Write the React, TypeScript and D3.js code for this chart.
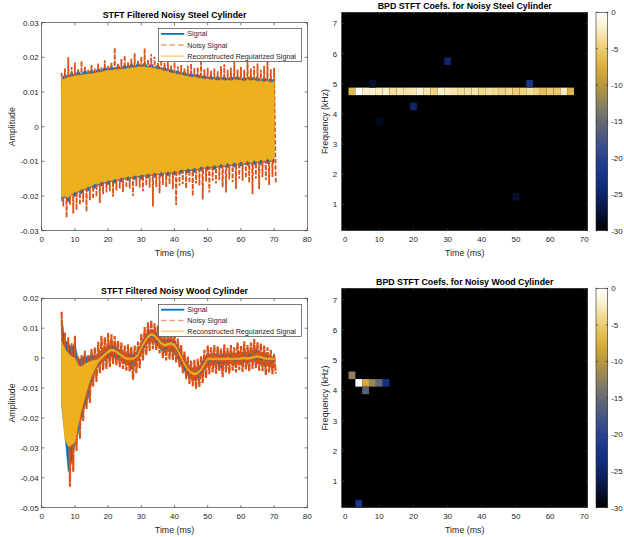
import React from "react";
import * as d3 from "d3";

// ---------- time-domain data (amplitudes in units of 0.001) ----------
const TIME_MS = [
  6, 7, 8, 9, 10, 11, 12, 13, 14, 15,
  16, 17, 18, 19, 20, 21, 22, 23, 24, 25,
  26, 27, 28, 29, 30, 31, 32, 33, 34, 35,
  36, 37, 38, 39, 40, 41, 42, 43, 44, 45,
  46, 47, 48, 49, 50, 51, 52, 53, 54, 55,
  56, 57, 58, 59, 60, 61, 62, 63, 64, 65,
  66, 67, 68, 69, 70,
];

const STEEL_SIGNAL_HI = [
  13.8, 15.2, 14.4, 15.8, 14.8, 16.2, 15.0, 16.4, 15.4, 16.6,
  15.6, 17.0, 16.0, 17.4, 16.4, 17.6, 16.6, 17.8, 16.8, 18.0,
  17.0, 18.4, 17.2, 18.6, 17.4, 18.6, 17.2, 18.4, 17.0, 18.0,
  16.6, 17.4, 16.2, 16.8, 15.6, 16.4, 15.2, 16.0, 14.8, 15.6,
  14.6, 15.4, 14.2, 15.0, 14.0, 14.8, 13.8, 14.6, 13.8, 14.6,
  13.6, 14.6, 13.8, 14.8, 13.6, 14.4, 13.8, 14.6, 13.6, 14.4,
  13.4, 14.2, 13.4, 14.0, 13.2,
];
const STEEL_SIGNAL_LO = [
  -21.5, -20.2, -21.8, -19.6, -20.2, -18.8, -19.4, -18.0, -18.6, -17.4,
  -17.8, -16.8, -17.2, -16.2, -16.8, -15.8, -16.4, -15.4, -16.0, -15.0,
  -15.6, -14.8, -15.4, -14.4, -15.2, -14.2, -14.8, -14.0, -14.6, -13.8,
  -14.4, -13.6, -14.2, -13.4, -14.0, -13.2, -13.6, -12.8, -13.4, -12.6,
  -13.2, -12.4, -12.8, -12.0, -12.6, -11.8, -12.4, -11.6, -12.0, -11.4,
  -11.8, -11.2, -11.6, -11.0, -11.4, -10.8, -11.2, -10.6, -11.0, -10.4,
  -10.8, -10.2, -10.6, -10.0, -10.4,
];
const STEEL_NOISY_HI = [
  15.5, 16.8, 20, 17.2, 18.5, 16.6, 19, 17.5, 16.4, 17.8,
  16.8, 18.2, 17.4, 19.2, 17.6, 18.5, 22.8, 18.2, 19.5, 20.6,
  18.8, 19.6, 21.2, 19, 20.2, 22.6, 19.4, 21, 20.2, 18.6,
  19.2, 18.4, 20.4, 17.8, 18.6, 17.4, 17.8, 16.8, 17.6, 18.2,
  16.9, 17.2, 19.4, 16.6, 17, 16.2, 16.8, 16, 17.4, 18,
  16.4, 17, 19, 16.5, 17.2, 16.4, 20, 16.8, 17.5, 18.2,
  16.4, 17.6, 19.6, 16.6, 17,
];
const STEEL_NOISY_LO = [
  -23, -26.2, -22.5, -25, -24, -22.6, -21.8, -24.5, -21.2, -20.8,
  -20.2, -22, -19.5, -19, -18.6, -20.2, -18.4, -17.8, -18.8, -17.6,
  -17.8, -20, -17.2, -17.5, -18.6, -17, -17.6, -23, -17.4, -19.2,
  -16.8, -17.5, -16.6, -18, -22.6, -17, -16.5, -17.8, -16.2, -20,
  -16.4, -17, -21, -15.8, -19, -15.6, -16.4, -15.4, -17.5, -19,
  -15.2, -16, -18, -15, -15.6, -14.8, -16.2, -19.5, -15, -18,
  -14.6, -15.4, -16.8, -14.5, -16.4,
];
const STEEL_RECON_HI = [
  13.6, 13.8, 14.2, 14.4, 14.6, 14.8, 14.8, 15.0, 15.2, 15.2,
  15.4, 15.6, 15.8, 16.0, 16.2, 16.2, 16.4, 16.4, 16.6, 16.6,
  16.8, 17.0, 17.0, 17.2, 17.2, 17.2, 17.0, 17.0, 16.8, 16.6,
  16.4, 16.0, 16.0, 15.4, 15.4, 15.0, 15.0, 14.6, 14.6, 14.2,
  14.4, 14.0, 14.0, 13.6, 13.8, 13.4, 13.6, 13.2, 13.6, 13.2,
  13.4, 13.2, 13.6, 13.4, 13.4, 13.0, 13.6, 13.2, 13.4, 13.0,
  13.2, 12.8, 13.2, 12.6, 13.0,
];
const STEEL_RECON_LO = [
  -20.1, -20.0, -20.4, -19.4, -18.8, -18.6, -18.0, -17.8, -17.2, -17.2,
  -16.4, -16.6, -15.8, -16.0, -15.4, -15.6, -15.0, -15.2, -14.6, -14.8,
  -14.2, -14.6, -14.0, -14.2, -13.8, -14.0, -13.4, -13.8, -13.2, -13.6,
  -13.0, -13.4, -12.8, -13.2, -12.6, -13.0, -12.2, -12.6, -12.0, -12.4,
  -11.8, -12.2, -11.4, -11.8, -11.2, -11.6, -11.0, -11.4, -10.6, -11.2,
  -10.4, -11.0, -10.2, -10.8, -10.0, -10.6, -9.8, -10.4, -9.6, -10.2,
  -9.4, -10.0, -9.2, -9.8, -9.0,
];

const WOOD_SIGNAL_HI = [
  14, 6, 5, 3.5, 5, -0.5, 0, 1, 0, 1.5,
  0.4, 1.6, 2.6, 3.2, 4, 4.4, 4, 3.2, 2.4, 1.6,
  1.2, 1.4, 1.4, 2.8, 5.2, 7.2, 8.8, 9.6, 9.2, 8,
  6.6, 6, 6.4, 6.6, 5.8, 4, 1.8, -0.2, -2, -3.2,
  -3.4, -3, -2, 0, 1.4, 1.2, 1.6, 1.4, 1, 1.8,
  1.2, 1.8, 1.2, 2.2, 1.6, 2.4, 1.8, 2.4, 3, 2.6,
  2.2, 1.6, 1.2, 0.8, 0,
];
const WOOD_SIGNAL_LO = [
  -16, -26, -38, -35, -29, -25, -20, -16, -13.5, -8.5,
  -4.8, -2.6, -1.6, -0.8, -0.2, 0.6, 0.2, -0.4, -1.2, -1.8,
  -2, -3.8, -2.2, -0.6, 1.8, 3.6, 5.2, 5.6, 5.2, 4,
  2.6, 2, 2.4, 2.2, 1.4, -0.4, -2.4, -4.4, -6, -7,
  -7.4, -6.8, -5.8, -4, -2.4, -2, -2.4, -1.8, -3.4, -2.2,
  -2.4, -1.8, -2.2, -1.6, -2.2, -1.4, -2, -1.2, -1, -1.8,
  -2, -2.8, -2.2, -2.8, -2.6,
];
const WOOD_NOISY_HI = [
  15.5, 8.5, 7, 5, 7.5, 0.5, 1, 2.5, 1, 3,
  3.5, 5.5, 7.5, 7, 8.5, 8, 7.4, 5.8, 5.2, 4.2,
  4.6, 3.8, 4.2, 5.5, 8.2, 10.4, 12, 12.6, 11.6, 11,
  9.6, 8.6, 9.4, 9.2, 8.4, 6.5, 4.4, 2.2, 0.6, -0.8,
  -0.6, -0.2, 0.8, 2.8, 4.2, 3.6, 4.4, 4, 3.2, 4.6,
  3.4, 4.4, 3.6, 5.2, 4, 5.6, 4.4, 5.2, 6.4, 5.4,
  5, 4.2, 3.6, 2.8, 1.4,
];
const WOOD_NOISY_LO = [
  -17, -28, -43, -38, -31, -27, -21, -17, -15, -9.5,
  -8, -5, -4, -3.6, -3, -2, -2.4, -3, -3.6, -4.2,
  -4.6, -7.2, -5, -3.4, -0.8, 1, 2.4, 3, 2.6, 1.6,
  0, -0.8, -0.4, -0.6, -1.4, -3, -5, -7, -8.6, -9.4,
  -10.2, -9.6, -8.4, -6.6, -5.4, -4.8, -5.2, -4.4, -6.4, -4.8,
  -5.2, -4.2, -4.8, -4, -4.6, -3.8, -4.4, -3.6, -3.4, -4.2,
  -4.4, -5.6, -4.8, -5.4, -5.2,
];
const WOOD_RECON_HI = [
  5.5, 3, 1.5, 0.5, 0, -2.5, -3, -2, -1.5, -1,
  -0.8, -0.5, 0.5, 1.5, 2.5, 3, 2.8, 2, 1.2, 0.4,
  0, 0, 0.2, 1.5, 3.8, 5.8, 7.4, 8.2, 7.8, 6.6,
  5.2, 4.6, 4.9, 5.2, 4.6, 2.8, 0.6, -1.6, -3.4, -4.6,
  -5, -4.6, -3.6, -1.6, 0, 0, 0, 0, 0, 0,
  0.1, 0, 0, 0, 0.1, 0.2, 0.1, 0.3, 0.6, 0.8,
  0.6, 0.2, 0, 0, 0,
];
const WOOD_RECON_LO = [
  -15, -27, -29.5, -29, -28, -22, -17, -13, -9, -6,
  -3.5, -1.5, -0.2, 0.8, 1.8, 2.4, 2.2, 1.4, 0.6, -0.2,
  -0.5, -0.5, -0.3, 0.9, 3.2, 5.2, 6.8, 7.6, 7.2, 6,
  4.6, 4, 4.3, 4.6, 4, 2.2, 0, -2.2, -4, -5.2,
  -5.6, -5.2, -4.2, -2.2, -0.5, -0.5, -0.5, -0.5, -0.5, -0.5,
  -0.4, -0.5, -0.5, -0.5, -0.4, -0.3, -0.4, -0.2, 0.1, 0.3,
  0.1, -0.3, -0.5, -0.5, -0.5,
];

const TIME_TICKS = [0, 10, 20, 30, 40, 50, 60, 70, 80];
const STEEL_AMP_TICKS = [-30, -20, -10, 0, 10, 20, 30];
const WOOD_AMP_TICKS = [-50, -40, -30, -20, -10, 0, 10, 20];
const LEGEND_LABELS = ["Signal", "Noisy Signal", "Reconstructed Regularized Signal"];

// ---------- STFT coefficient data (dB) ----------
const SPEC_TIME_TICKS = [0, 10, 20, 30, 40, 50, 60, 70];
const FREQ_TICKS = [1, 2, 3, 4, 5, 6, 7];
const CBAR_TICKS = [0, -5, -10, -15, -20, -25, -30];

const STEEL_BAR_T = [2, 4, 6, 8, 10, 12, 14, 16, 18, 20, 22, 24, 26, 28, 30, 32, 34, 36, 38, 40, 42, 44, 46, 48, 50, 52, 54, 56, 58, 60, 62, 64, 66];
const STEEL_BAR_DB = [-6.5, 0, -2.2, -2, -2.5, -2.2, -3.5, -3, -3.2, -2.8, -2, -3, -4.5, -2, -2.5, -3, -3.6, -3.4, -3, -4, -3.6, -4, -4.4, -4, -5, -4.6, -3.6, -4.6, -6, -5, -5.4, -2.6, -7];
const STEEL_BAR_F = 4.75;
const STEEL_SPOT_T = [8, 10, 20, 30, 50, 54];
const STEEL_SPOT_F = [5.0, 3.75, 4.25, 5.75, 1.25, 5.0];
const STEEL_SPOT_DB = [-28, -28.8, -25, -25, -28, -22];

const WOOD_CELL_T = [2, 4, 6, 8, 10, 12, 6, 4];
const WOOD_CELL_F = [4.5, 4.25, 4.25, 4.25, 4.25, 4.25, 4.0, 0.25];
const WOOD_CELL_DB = [-12.5, 0, -8, -12, -15.5, -23, -16, -22];

const CMAP_DB = [-30, -28, -26, -24, -22, -20, -18, -16, -14, -12, -10, -8, -6, -4, -2, 0];
const CMAP_COLORS = [
  "#000000", "#050f2e", "#0a1f58", "#0f2c78", "#19368a", "#28438c", "#3f5186", "#5a6279",
  "#76746c", "#968758", "#b8983f", "#d5a93a", "#e6c058", "#f2d990", "#fbf0d0", "#ffffff",
];

// ---------- styling ----------
const FONT = "'Liberation Sans', Arial, Helvetica, sans-serif";
const AXC = "#262626";
const BLUE = "#0072BD";
const ORANGE = "#D95319";
const GOLD = "#EDB120";

type Box = { l: number; t: number; r: number; b: number };
const TL: Box = { l: 41.7, t: 22.7, r: 307.3, b: 230.7 };
const BL: Box = { l: 41.7, t: 298.3, r: 307.3, b: 507.7 };
const TR: Box = { l: 341.7, t: 12.3, r: 587.7, b: 230.7 };
const BR: Box = { l: 341.7, t: 288.3, r: 587.7, b: 507.7 };
const CBAR_L = 596;
const CBAR_R = 607.7;

const colorScale = d3
  .scaleLinear<string>()
  .domain(CMAP_DB)
  .range(CMAP_COLORS)
  .interpolate(d3.interpolateRgb)
  .clamp(true);

const ampFmt = (v: number) => (v === 0 ? "0" : (v / 1000).toFixed(2));

function SignalPanel(props: {
  id: string;
  box: Box;
  title: string;
  yDomain: [number, number];
  yTicks: number[];
  sigHi: number[];
  sigLo: number[];
  noisyHi: number[];
  noisyLo: number[];
  recHi: number[];
  recLo: number[];
  legendTop: number;
  legendBottom: number;
  noisyWidth: number;
  noisyDash: string;
}) {
  const { id, box, title, yDomain, yTicks } = props;
  const x = d3.scaleLinear().domain([0, 80]).range([box.l, box.r]);
  const y = d3.scaleLinear().domain(yDomain).range([box.b, box.t]);
  const band = (hi: number[], lo: number[]) =>
    d3
      .area<number>()
      .x((_, i) => x(TIME_MS[i]))
      .y0((_, i) => y(lo[i]))
      .y1((d) => y(d))(hi) || "";
  const zig = (hi: number[], lo: number[]) => {
    const pts: [number, number][] = [];
    TIME_MS.forEach((t, i) => {
      pts.push([x(t), y(hi[i])]);
      pts.push([x(t + 0.5), y(lo[i])]);
    });
    return d3.line()(pts) || "";
  };
  const tl = 2.7;
  const lgL = 158.3;
  const lgR = 301.3;
  const rowH = (props.legendBottom - props.legendTop) / 3;
  return (
    <g>
      <defs>
        <clipPath id={id}>
          <rect x={box.l} y={box.t} width={box.r - box.l} height={box.b - box.t} />
        </clipPath>
      </defs>
      <rect x={box.l} y={box.t} width={box.r - box.l} height={box.b - box.t} fill="#fff" />
      <g clipPath={`url(#${id})`}>
        <path d={band(props.sigHi, props.sigLo)} fill={BLUE} stroke={BLUE} strokeWidth={0.5} />
        <path
          d={zig(props.noisyHi, props.noisyLo)}
          fill="none"
          stroke={ORANGE}
          strokeWidth={props.noisyWidth}
          strokeDasharray={props.noisyDash}
        />
        <path d={band(props.recHi, props.recLo)} fill={GOLD} stroke={GOLD} strokeWidth={0.9} strokeOpacity={0.85} />
      </g>
      {/* axes box */}
      <rect x={box.l} y={box.t} width={box.r - box.l} height={box.b - box.t} fill="none" stroke={AXC} strokeWidth={0.6} />
      {TIME_TICKS.map((v) => (
        <g key={"xt" + v}>
          <line x1={x(v)} x2={x(v)} y1={box.b} y2={box.b - tl} stroke={AXC} strokeWidth={0.6} />
          <line x1={x(v)} x2={x(v)} y1={box.t} y2={box.t + tl} stroke={AXC} strokeWidth={0.6} />
          <text x={x(v)} y={box.b + 11.5} textAnchor="middle" fontSize={8} fill={AXC} fontFamily={FONT}>
            {v}
          </text>
        </g>
      ))}
      {yTicks.map((v) => (
        <g key={"yt" + v}>
          <line x1={box.l} x2={box.l + tl} y1={y(v)} y2={y(v)} stroke={AXC} strokeWidth={0.6} />
          <line x1={box.r} x2={box.r - tl} y1={y(v)} y2={y(v)} stroke={AXC} strokeWidth={0.6} />
          <text x={box.l - 3} y={y(v) + 2.9} textAnchor="end" fontSize={8} fill={AXC} fontFamily={FONT}>
            {ampFmt(v)}
          </text>
        </g>
      ))}
      <text x={(box.l + box.r) / 2} y={box.b + 24.8} textAnchor="middle" fontSize={8.8} fill={AXC} fontFamily={FONT}>
        Time (ms)
      </text>
      <text
        transform={`translate(14.9,${(box.t + box.b) / 2}) rotate(-90)`}
        textAnchor="middle"
        fontSize={8.8}
        fill={AXC}
        fontFamily={FONT}
      >
        Amplitude
      </text>
      <text x={(box.l + box.r) / 2} y={box.t - 4.3} textAnchor="middle" fontSize={8.8} fontWeight="bold" fill="#000" fontFamily={FONT}>
        {title}
      </text>
      {/* legend */}
      <rect x={lgL} y={props.legendTop} width={lgR - lgL} height={props.legendBottom - props.legendTop} fill="#fff" stroke={AXC} strokeWidth={0.6} />
      {LEGEND_LABELS.map((lab, i) => {
        const cy = props.legendTop + rowH * (i + 0.5);
        const col = [BLUE, ORANGE, GOLD][i];
        return (
          <g key={lab}>
            <line
              x1={161}
              x2={184.3}
              y1={cy}
              y2={cy}
              stroke={col}
              strokeWidth={i === 0 ? 1.8 : 1.6}
              strokeOpacity={i === 0 ? 1 : 0.55}
              strokeDasharray={i === 1 ? "5.5,3" : undefined}
            />
            <text x={187.3} y={cy + 2.6} fontSize={7.2} fill={AXC} fontFamily={FONT}>
              {lab}
            </text>
          </g>
        );
      })}
    </g>
  );
}

function SpecPanel(props: {
  id: string;
  box: Box;
  title: string;
  cellT: number[];
  cellF: number[];
  cellDb: number[];
}) {
  const { id, box, title } = props;
  const x = d3.scaleLinear().domain([-1, 71]).range([box.l, box.r]);
  const y = d3.scaleLinear().domain([0.125, 7.375]).range([box.b, box.t]);
  const cb = d3.scaleLinear().domain([-30, 0]).range([box.b, box.t]);
  const tl = 2.5;
  const gid = id + "-grad";
  return (
    <g>
      <defs>
        <linearGradient id={gid} x1="0" y1="1" x2="0" y2="0">
          {CMAP_DB.map((d, i) => (
            <stop key={d} offset={(d + 30) / 30} stopColor={CMAP_COLORS[i]} />
          ))}
        </linearGradient>
      </defs>
      <rect x={box.l} y={box.t} width={box.r - box.l} height={box.b - box.t} fill="#000" />
      {props.cellT.map((t, i) => (
        <rect
          key={i}
          x={x(t - 1)}
          y={y(props.cellF[i] + 0.125)}
          width={x(t + 1) - x(t - 1)}
          height={y(props.cellF[i] - 0.125) - y(props.cellF[i] + 0.125)}
          fill={colorScale(props.cellDb[i])}
        />
      ))}
      <rect x={box.l} y={box.t} width={box.r - box.l} height={box.b - box.t} fill="none" stroke={AXC} strokeWidth={0.6} />
      {SPEC_TIME_TICKS.map((v) => (
        <g key={"xt" + v}>
          <line x1={x(v)} x2={x(v)} y1={box.b} y2={box.b - tl} stroke="#444" strokeWidth={0.6} />
          <line x1={x(v)} x2={x(v)} y1={box.t} y2={box.t + tl} stroke="#444" strokeWidth={0.6} />
          <text x={x(v)} y={box.b + 11.5} textAnchor="middle" fontSize={8} fill={AXC} fontFamily={FONT}>
            {v}
          </text>
        </g>
      ))}
      {FREQ_TICKS.map((v) => (
        <g key={"yt" + v}>
          <line x1={box.l} x2={box.l + tl} y1={y(v)} y2={y(v)} stroke="#444" strokeWidth={0.6} />
          <line x1={box.r} x2={box.r - tl} y1={y(v)} y2={y(v)} stroke="#444" strokeWidth={0.6} />
          <text x={box.l - 4.5} y={y(v) + 2.9} textAnchor="end" fontSize={8} fill={AXC} fontFamily={FONT}>
            {v}
          </text>
        </g>
      ))}
      <text x={(box.l + box.r) / 2} y={box.b + 24.8} textAnchor="middle" fontSize={8.8} fill={AXC} fontFamily={FONT}>
        Time (ms)
      </text>
      <text
        transform={`translate(328.2,${(box.t + box.b) / 2}) rotate(-90)`}
        textAnchor="middle"
        fontSize={8.8}
        fill={AXC}
        fontFamily={FONT}
      >
        Frequency (kHz)
      </text>
      <text x={(box.l + box.r) / 2} y={box.t - 3.4} textAnchor="middle" fontSize={8.8} fontWeight="bold" fill="#000" fontFamily={FONT}>
        {title}
      </text>
      {/* colorbar */}
      <rect x={CBAR_L} y={box.t} width={CBAR_R - CBAR_L} height={box.b - box.t} fill={`url(#${gid})`} stroke={AXC} strokeWidth={0.6} />
      {CBAR_TICKS.map((v) => (
        <g key={"cb" + v}>
          <line x1={CBAR_R} x2={CBAR_R - 2} y1={cb(v)} y2={cb(v)} stroke={AXC} strokeWidth={0.6} />
          <line x1={CBAR_L} x2={CBAR_L + 2} y1={cb(v)} y2={cb(v)} stroke={AXC} strokeWidth={0.6} />
          <text x={CBAR_R + 3.5} y={cb(v) + 2.9} fontSize={8} fill={AXC} fontFamily={FONT}>
            {v}
          </text>
        </g>
      ))}
    </g>
  );
}

export default function App() {
  const steelCellsT = [...STEEL_BAR_T, ...STEEL_SPOT_T];
  const steelCellsF = [...STEEL_BAR_T.map(() => STEEL_BAR_F), ...STEEL_SPOT_F];
  const steelCellsDb = [...STEEL_BAR_DB, ...STEEL_SPOT_DB];
  return (
    <svg
      width={624}
      height={537}
      style={{ position: "absolute", left: 0, top: 0, background: "#fff" }}
      fontFamily={FONT}
    >
      <rect x={0} y={0} width={624} height={537} fill="#fff" />
      <SignalPanel
        id="clip-steel"
        box={TL}
        title="STFT Filtered Noisy Steel Cylinder"
        yDomain={[-30, 30]}
        yTicks={STEEL_AMP_TICKS}
        sigHi={STEEL_SIGNAL_HI}
        sigLo={STEEL_SIGNAL_LO}
        noisyHi={STEEL_NOISY_HI}
        noisyLo={STEEL_NOISY_LO}
        recHi={STEEL_RECON_HI}
        recLo={STEEL_RECON_LO}
        legendTop={28.3}
        legendBottom={61.7}
        noisyWidth={1.8}
        noisyDash="4.5,1.8"
      />
      <SignalPanel
        id="clip-wood"
        box={BL}
        title="STFT Filtered Noisy Wood Cylinder"
        yDomain={[-50, 20]}
        yTicks={WOOD_AMP_TICKS}
        sigHi={WOOD_SIGNAL_HI}
        sigLo={WOOD_SIGNAL_LO}
        noisyHi={WOOD_NOISY_HI}
        noisyLo={WOOD_NOISY_LO}
        recHi={WOOD_RECON_HI}
        recLo={WOOD_RECON_LO}
        legendTop={304.3}
        legendBottom={336.7}
        noisyWidth={2.1}
        noisyDash="7,1.2"
      />
      <SpecPanel
        id="spec-steel"
        box={TR}
        title="BPD STFT Coefs. for Noisy Steel Cylinder"
        cellT={steelCellsT}
        cellF={steelCellsF}
        cellDb={steelCellsDb}
      />
      <SpecPanel
        id="spec-wood"
        box={BR}
        title="BPD STFT Coefs. for Noisy Wood Cylinder"
        cellT={WOOD_CELL_T}
        cellF={WOOD_CELL_F}
        cellDb={WOOD_CELL_DB}
      />
    </svg>
  );
}
